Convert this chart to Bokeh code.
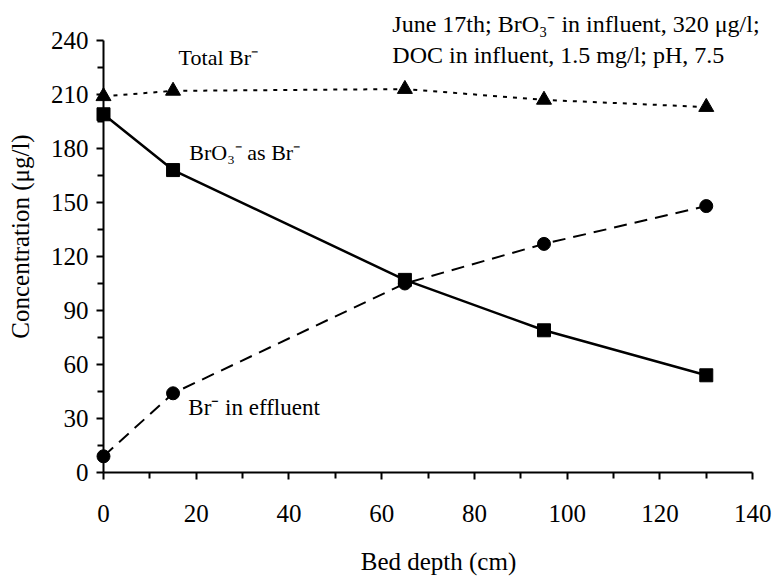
from bokeh.plotting import figure
from bokeh.models import FixedTicker, Label, Range1d
from bokeh.embed import file_html
from bokeh.resources import INLINE

# data
depth = [0, 15, 65, 95, 130]
total_br = [209, 212, 213, 207, 203]
bro3_as_br = [199, 168, 107, 79, 54]
br_effluent = [9, 44, 105, 127, 148]

x_ticks = [0, 20, 40, 60, 80, 100, 120, 140]
x_minor = [10, 30, 50, 70, 90, 110, 130]
y_ticks = [0, 30, 60, 90, 120, 150, 180, 210, 240]
y_minor = [15, 45, 75, 105, 135, 165, 195, 225]

FONT = "'Liberation Serif', 'Times New Roman', Times, serif"

# frame extends beyond the drawn axes so the note above/right fits; axes bounded
p = figure(width=774, height=578, output_backend="svg", toolbar_location=None,
           x_range=Range1d(0, 144.5), y_range=Range1d(0, 262.2))
p.min_border_left = 103
p.min_border_right = 1
p.min_border_top = 0
p.min_border_bottom = 106
p.outline_line_color = None
p.xgrid.visible = False
p.ygrid.visible = False
p.background_fill_color = "white"
p.border_fill_color = "white"

for ax in (p.xaxis[0], p.yaxis[0]):
    ax.axis_line_width = 2
    ax.axis_line_color = "black"
    ax.major_tick_line_width = 2
    ax.minor_tick_line_width = 2
    ax.major_tick_in = 0
    ax.minor_tick_in = 0
    ax.major_tick_out = 7
    ax.minor_tick_out = 6
    ax.major_label_text_font = FONT
    ax.major_label_text_font_size = "25px"
    ax.major_label_text_color = "black"
    ax.axis_label_text_font = FONT
    ax.axis_label_text_font_size = "25px"
    ax.axis_label_text_font_style = "normal"
    ax.axis_label_text_color = "black"

p.xaxis.bounds = (0, 140)
p.yaxis.bounds = (0, 240)
p.xaxis.ticker = FixedTicker(ticks=x_ticks, minor_ticks=x_minor)
p.yaxis.ticker = FixedTicker(ticks=y_ticks, minor_ticks=y_minor)
p.xaxis.axis_label = "Bed depth (cm)"
p.yaxis.axis_label = "Concentration (μg/l)"
p.xaxis.major_label_standoff = 25
p.xaxis.axis_label_standoff = 23
p.yaxis.major_label_standoff = 8
p.yaxis.axis_label_standoff = 14

# lines
p.line(depth, total_br, line_color="black", line_width=2, line_dash="4 6")
p.line(depth, bro3_as_br, line_color="black", line_width=2.5)
p.line(depth, br_effluent, line_color="black", line_width=2, line_dash="13 8")

# markers
r1 = p.scatter(depth, total_br, marker="triangle", size=15, color="black")
r2 = p.scatter(depth, bro3_as_br, marker="square", size=13, color="black")
r3 = p.scatter(depth, br_effluent, marker="circle", size=13, color="black")
for r in (r1, r2, r3):
    r.level = "overlay"

def lab(x, y, t, size="23px"):
    p.add_layout(Label(x=x, y=y, text=t, text_font=FONT, text_font_size=size,
                       text_color="black", text_align="left", text_baseline="middle"))

lab(16.2, 230.6, "Total Br\u207b", "22px")
lab(18.5, 177.8, "BrO\u2083\u207b as Br\u207b", "22px")
lab(18.3, 36, "Br\u207b in effluent")
lab(62.3, 249.4, "June 17th; BrO\u2083\u207b in influent, 320 μg/l;", "24px")
lab(62.3, 231.7, "DOC in influent, 1.5 mg/l; pH, 7.5", "24px")

open("out.html", "w").write(file_html(p, INLINE))
